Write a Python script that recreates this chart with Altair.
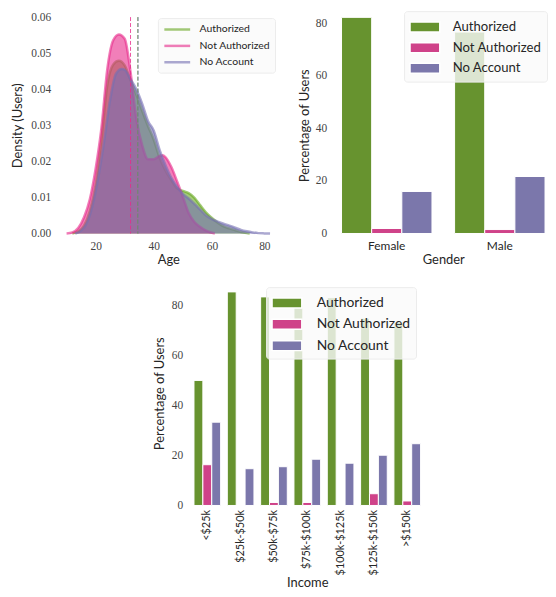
import altair as alt
import pandas as pd

GROUPS = ["Authorized", "Not Authorized", "No Account"]
KDE_COLORS = ["#66a61e", "#e7298a", "#7570b3"]
BAR_COLORS = ["#67932f", "#cf4289", "#7b77ab"]

# ---- Age density curves ----
auth_age = [12, 14, 16, 18, 20, 22, 24, 26, 28, 30, 32, 34, 36, 38, 40, 42, 44, 46, 48, 50,
            52, 54, 56, 58, 60, 62, 64, 66, 68, 70, 72, 73]
auth_dens = [0.0, 0.0006, 0.0022, 0.0062, 0.0135, 0.026, 0.041, 0.0468, 0.0479, 0.0466, 0.0425,
             0.0385, 0.034, 0.0298, 0.026, 0.021, 0.0175, 0.0148, 0.0125, 0.0118, 0.0112, 0.0099,
             0.0078, 0.0058, 0.0043, 0.003, 0.002, 0.0014, 0.0009, 0.0004, 0.0001, 0.0]

notauth_age = [10, 12, 14, 16, 18, 20, 22, 24, 26, 28, 30, 32, 34, 36, 38, 40, 42, 43, 44, 46,
               48, 50, 52, 54, 56, 58, 60, 61]
notauth_dens = [0.0, 0.0003, 0.0015, 0.0045, 0.0095, 0.018, 0.0293, 0.0455, 0.0535, 0.0552,
                0.054, 0.0448, 0.0318, 0.0245, 0.0206, 0.0206, 0.0215, 0.0217, 0.0212, 0.0185,
                0.0145, 0.0102, 0.0057, 0.0032, 0.0018, 0.0008, 0.0002, 0.0]

noacc_age = [13, 15, 17, 19, 21, 23, 25, 27, 29, 30, 32, 34, 36, 38, 40, 42, 44, 46, 48, 50,
             52, 54, 56, 58, 60, 62, 64, 66, 68, 70, 72, 74, 76, 78, 80]
noacc_dens = [0.0, 0.0008, 0.003, 0.008, 0.016, 0.026, 0.0372, 0.0443, 0.0456, 0.0454, 0.0428,
              0.040, 0.036, 0.0312, 0.0285, 0.0232, 0.019, 0.0155, 0.013, 0.011, 0.0097, 0.0082,
              0.0066, 0.005, 0.004, 0.0033, 0.0027, 0.0022, 0.0016, 0.001, 0.0006, 0.0003,
              0.0001, 0.00003, 0.0]

mean_age = [34.5, 32.0, 34.6]

# ---- Gender percentages ----
gender_cats = ["Female", "Male"]
gender_auth = [82.3, 76.7]
gender_notauth = [1.9, 1.5]
gender_noacc = [16.0, 21.7]

# ---- Income percentages ----
income_cats = ["<$25k", "$25k-$50k", "$50k-$75k", "$75k-$100k", "$100k-$125k", "$125k-$150k", ">$150k"]
income_auth = [50.0, 85.4, 83.4, 80.3, 83.1, 74.9, 73.3]
income_notauth = [16.3, 0.0, 1.2, 1.2, 0.0, 4.7, 1.8]
income_noacc = [33.3, 14.7, 15.5, 18.5, 16.9, 20.1, 24.7]

LABEL_FONT = "Liberation Serif"
SANS = "Lato"
TXT = "#262626"

def num_axis(title, values, fmt=None, label_pad=8, title_pad=5):
    kw = dict(title=title, values=values, grid=False, domain=False, ticks=False,
              labelFont=LABEL_FONT, labelFontSize=11.5, labelColor="#444444",
              labelPadding=label_pad, titleFont=SANS, titleFontSize=13,
              titleFontWeight="normal", titleColor=TXT, titlePadding=title_pad)
    if fmt:
        kw["format"] = fmt
    return alt.Axis(**kw)

# ---------------- density panel ----------------
X = alt.X("age:Q", scale=alt.Scale(domain=[10, 80], nice=False, zero=False),
          axis=num_axis("Age", [20, 40, 60, 80], label_pad=7, title_pad=2))
Y = alt.Y("dens:Q", scale=alt.Scale(domain=[0, 0.06], nice=False),
          axis=num_axis("Density (Users)", [0, 0.01, 0.02, 0.03, 0.04, 0.05, 0.06], fmt=".2f",
                        label_pad=16, title_pad=6))

kde_layers = []
series = [(auth_age, auth_dens), (notauth_age, notauth_dens), (noacc_age, noacc_dens)]
for (ages, dens), col in zip(series, KDE_COLORS):
    df = pd.DataFrame({"age": ages, "dens": dens})
    base = alt.Chart(df)
    kde_layers.append(base.mark_area(color=col, opacity=0.6, interpolate="monotone")
                      .encode(x=X, y=Y))
    kde_layers.append(base.mark_line(color=col, opacity=0.6, strokeWidth=2.5,
                                     interpolate="monotone").encode(x=X, y=Y))
for g, a, col in zip(GROUPS, mean_age, KDE_COLORS):
    rdf = pd.DataFrame({"age": [a]})
    kde_layers.append(alt.Chart(rdf).mark_rule(color=col, strokeDash=[4, 2], strokeWidth=1,
                                               opacity=0.8).encode(x=X))

leg_df = pd.DataFrame({"group": GROUPS, "age": [20, 20, 20], "dens": [-1, -1, -1]})
kde_legend = alt.Chart(leg_df).mark_line(opacity=0.6, strokeWidth=2.5, clip=True).encode(
    x=X, y=Y,
    color=alt.Color("group:N", sort=GROUPS,
                    scale=alt.Scale(domain=GROUPS, range=KDE_COLORS),
                    legend=alt.Legend(title=None, orient="none", legendX=92, legendY=1,
                                      symbolType="M-1,0L4.2,0", symbolSize=100,
                                      symbolStrokeWidth=2.5, labelFont=SANS,
                                      labelFontSize=10.5, labelColor=TXT, labelOffset=24,
                                      rowPadding=4.5, padding=5, fillColor="rgba(250,250,250,0.85)",
                                      strokeColor="#ececec", cornerRadius=3)))
kde_layers.append(kde_legend)
kde = alt.layer(*kde_layers).properties(width=205, height=218)

# ---------------- gender panel ----------------
g_rows = []
for i, c in enumerate(gender_cats):
    for g, vals in zip(GROUPS, [gender_auth, gender_notauth, gender_noacc]):
        g_rows.append({"cat": c, "group": g, "pct": vals[i]})
gdf = pd.DataFrame(g_rows)

bar_symbol = "M-1,-0.5L2,-0.5L2,0.5L-1,0.5Z"

gender = alt.Chart(gdf).mark_bar(stroke="white", strokeWidth=1).encode(
    x=alt.X("cat:N", sort=gender_cats, scale=alt.Scale(paddingInner=0.2, paddingOuter=0),
            axis=alt.Axis(title="Gender", labelAngle=0, grid=False, domain=False, ticks=False,
                          labelFont=SANS, labelFontSize=12, labelColor=TXT, labelPadding=7,
                          titleFont=SANS, titleFontSize=13, titleFontWeight="normal",
                          titleColor=TXT, titlePadding=2)),
    xOffset=alt.XOffset("group:N", sort=GROUPS, scale=alt.Scale(domain=GROUPS)),
    y=alt.Y("pct:Q", scale=alt.Scale(domain=[0, 82.4], nice=False),
            axis=num_axis("Percentage of Users", [0, 20, 40, 60, 80], label_pad=15, title_pad=4)),
    color=alt.Color("group:N", sort=GROUPS, scale=alt.Scale(domain=GROUPS, range=BAR_COLORS),
                    legend=alt.Legend(title=None, orient="none", legendX=63, legendY=-6,
                                      symbolType=bar_symbol, symbolSize=400,
                                      labelFont=SANS, labelFontSize=13.2, labelColor=TXT,
                                      labelOffset=22, rowPadding=1.8, padding=5,
                                      fillColor="rgba(250,250,250,0.8)", strokeColor="#ececec",
                                      cornerRadius=3)),
).properties(width=205, height=218)

# ---------------- income panel ----------------
i_rows = []
for i, c in enumerate(income_cats):
    for g, vals in zip(GROUPS, [income_auth, income_notauth, income_noacc]):
        i_rows.append({"cat": c, "group": g, "pct": vals[i]})
idf = pd.DataFrame(i_rows)

income = alt.Chart(idf).mark_bar(stroke="white", strokeWidth=1).encode(
    x=alt.X("cat:N", sort=income_cats, scale=alt.Scale(paddingInner=0.2, paddingOuter=0.1),
            axis=alt.Axis(title="Income", labelAngle=270, grid=False, domain=False, ticks=False,
                          labelFont=SANS, labelFontSize=11, labelColor=TXT, labelPadding=4,
                          labelOverlap=False, titleFont=SANS, titleFontSize=13,
                          titleFontWeight="normal", titleColor=TXT, titlePadding=2)),
    xOffset=alt.XOffset("group:N", sort=GROUPS, scale=alt.Scale(domain=GROUPS)),
    y=alt.Y("pct:Q", scale=alt.Scale(domain=[0, 89.7], nice=False),
            axis=num_axis("Percentage of Users", [0, 20, 40, 60, 80], label_pad=8, title_pad=5)),
    color=alt.Color("group:N", sort=GROUPS, scale=alt.Scale(domain=GROUPS, range=BAR_COLORS),
                    legend=alt.Legend(title=None, orient="none", legendX=76, legendY=6,
                                      symbolType=bar_symbol, symbolSize=400,
                                      labelFont=SANS, labelFontSize=14, labelColor=TXT,
                                      labelOffset=24, rowPadding=2.5, padding=5,
                                      fillColor="rgba(250,250,250,0.8)", strokeColor="#ececec",
                                      cornerRadius=3)),
).properties(width=235, height=226)

spacer = alt.Chart(pd.DataFrame({"v": [0]})).mark_text(text=" ").encode(
    x=alt.value(0), y=alt.value(0)).properties(width=87, height=10)

top = alt.hconcat(kde, gender, spacing=22).resolve_scale(color="independent", xOffset="independent")
bottom = alt.hconcat(spacer, income, spacing=0).resolve_scale(color="independent", xOffset="independent")

chart = alt.vconcat(top, bottom, spacing=8, center=False).resolve_scale(
    color="independent", xOffset="independent"
).properties(
    padding={"left": 3, "top": 0, "right": 0, "bottom": 0}
).configure_view(stroke=None)

chart.save("out.html", embed_options={"renderer": "svg", "actions": False})
